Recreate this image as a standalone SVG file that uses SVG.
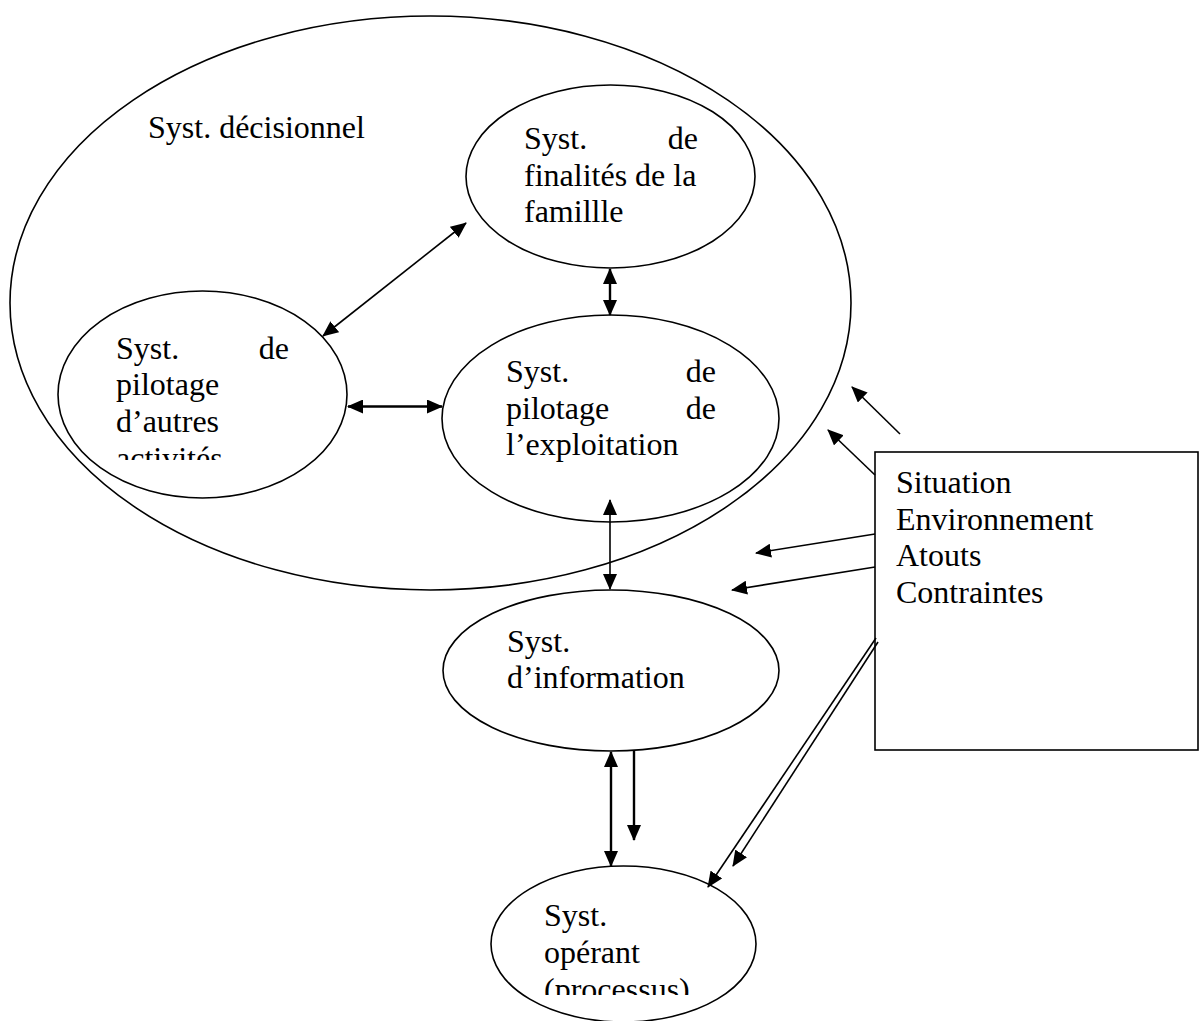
<svg xmlns="http://www.w3.org/2000/svg" width="1200" height="1021" viewBox="0 0 1200 1021">
<style>
  .shape { fill: #fff; stroke: #000; stroke-width: 1.6; }
  .big { fill: none; stroke: #000; stroke-width: 1.6; }
  text { font-family: "Liberation Serif", "Times New Roman", serif; font-size: 32px; fill: #000; }
  .end { text-anchor: end; }
  .c { fill: none; stroke: #000; stroke-width: 1.6; }
  .ct { fill: none; stroke: #000; stroke-width: 2.4; }
</style>
<defs>
  <marker id="ah" markerUnits="userSpaceOnUse" markerWidth="16" markerHeight="14" refX="15" refY="7" orient="auto-start-reverse" viewBox="0 0 16 14">
    <path d="M0,0 L16,7 L0,14 Z" fill="#000"/>
  </marker>
  <clipPath id="clipAutres"><rect x="0" y="0" width="1200" height="460"/></clipPath>
  <clipPath id="clipOperant"><rect x="0" y="0" width="1200" height="995"/></clipPath>
</defs>
<rect x="0" y="0" width="1200" height="1021" fill="#fff"/>

<g id="decisionnel">
  <ellipse class="big" cx="430.5" cy="303" rx="420.5" ry="287"/>
  <text x="148" y="138">Syst. décisionnel</text>
</g>

<g id="finalites">
  <ellipse class="shape" cx="610.5" cy="176.5" rx="144.5" ry="91.5"/>
  <text x="524" y="149">Syst.</text>
  <text class="end" x="698" y="149">de</text>
  <text x="524" y="186">finalités de la</text>
  <text x="524" y="222">famillle</text>
</g>

<g id="autres">
  <ellipse class="shape" cx="202.5" cy="394.5" rx="144.5" ry="103.5"/>
  <text x="116" y="359">Syst.</text>
  <text class="end" x="289" y="359">de</text>
  <text x="116" y="395">pilotage</text>
  <text x="116" y="432">d’autres</text>
  <text x="116" y="468.5" clip-path="url(#clipAutres)">activités</text>
</g>

<g id="exploitation">
  <ellipse class="shape" cx="610.5" cy="418.5" rx="168.5" ry="103.5"/>
  <text x="506" y="382">Syst.</text>
  <text class="end" x="716" y="382">de</text>
  <text x="506" y="419">pilotage</text>
  <text class="end" x="716" y="419">de</text>
  <text x="506" y="455">l’exploitation</text>
</g>

<g id="information">
  <ellipse class="shape" cx="611" cy="670.5" rx="168" ry="80.5"/>
  <text x="507" y="652">Syst.</text>
  <text x="507" y="688">d’information</text>
</g>

<g id="operant">
  <ellipse class="shape" cx="623.5" cy="944" rx="132.5" ry="78"/>
  <text x="544" y="926">Syst.</text>
  <text x="544" y="963">opérant</text>
  <text x="544" y="999.5" clip-path="url(#clipOperant)">(processus)</text>
</g>

<g id="contexte">
  <rect class="shape" x="875" y="452" width="323" height="298"/>
  <text x="896" y="493">Situation</text>
  <text x="896" y="529.5">Environnement</text>
  <text x="896" y="566">Atouts</text>
  <text x="896" y="602.5">Contraintes</text>
</g>

<g id="connectors">
  <line class="c" x1="323" y1="336" x2="466" y2="223" marker-start="url(#ah)" marker-end="url(#ah)"/>
  <line class="ct" x1="610" y1="269" x2="610" y2="315" marker-start="url(#ah)" marker-end="url(#ah)"/>
  <line class="ct" x1="348" y1="406.5" x2="442" y2="406.5" marker-start="url(#ah)" marker-end="url(#ah)"/>
  <line class="c" x1="610" y1="500" x2="610" y2="589" marker-start="url(#ah)" marker-end="url(#ah)"/>
  <line class="ct" x1="611" y1="752" x2="611" y2="866" marker-start="url(#ah)" marker-end="url(#ah)"/>
  <line class="ct" x1="634" y1="751" x2="634" y2="840" marker-end="url(#ah)"/>
  <line class="c" x1="876" y1="638" x2="708" y2="887" marker-end="url(#ah)"/>
  <line class="c" x1="878" y1="642" x2="733" y2="866" marker-end="url(#ah)"/>
  <line class="c" x1="875" y1="534" x2="756" y2="553" marker-end="url(#ah)"/>
  <line class="c" x1="875" y1="567" x2="732" y2="590" marker-end="url(#ah)"/>
  <line class="c" x1="875" y1="475" x2="828" y2="430" marker-end="url(#ah)"/>
  <line class="c" x1="900" y1="434" x2="852" y2="387" marker-end="url(#ah)"/>
</g>
</svg>
